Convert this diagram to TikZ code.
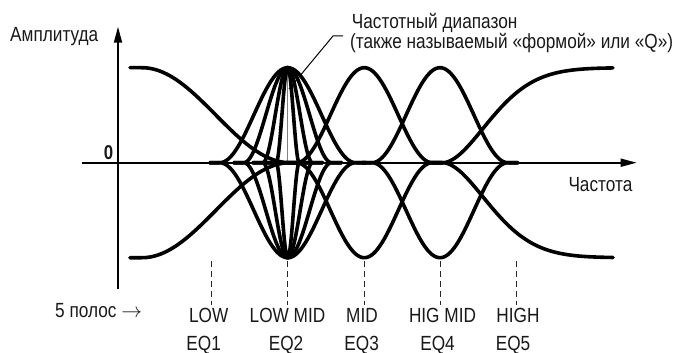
\documentclass[tikz,border=0pt]{standalone}
\usepackage{fontspec}
\setmainfont{Liberation Sans}[FakeStretch=0.84]
\usetikzlibrary{arrows.meta}
\begin{document}
\begin{tikzpicture}[x=1pt,y=-1pt,
  declare function={
    bell(\d,\w)=(abs(\d)<\w)*(1+cos(180*\d/\w))/2;
    lshelf(\x)=(1+cos(180*min(max((\x-142)/148,0),1)))/2;
    rshelf(\x)=1-exp(-pow(max((\x-443)/62.6,0.0001),1.8));
  },
  curve/.style={line width=3.6pt, line join=round, line cap=round},
  axisline/.style={line width=1.8pt, -{Triangle[length=16pt,width=8pt]}},
  guide/.style={line width=1pt, dash pattern=on 6pt off 4pt, black!85},
  lbl/.style={font=\fontsize{20.5}{24}\selectfont, inner sep=0pt, anchor=base, text=black!90},
]
\useasboundingbox (0,0) rectangle (688,353);

% axes
\coordinate (ybot) at (118,289.3);
\coordinate (ytop) at (118,26.7);
\coordinate (xleft) at (81.7,162.7);
\coordinate (xright) at (636.7,162.7);
\draw[axisline] (ybot) -- (ytop);
\draw[axisline] (xleft) -- (xright);

% gray centre line of EQ2
\coordinate (gtop) at (287.7,68);
\coordinate (gbot) at (287.7,162.7);
\draw[gray, line width=1.5pt] (gtop) -- (gbot);

% shelves
\draw[curve] plot[domain=130:298, samples=120] (\x,{162.7-95*lshelf(\x)});
\draw[curve] plot[domain=130:298, samples=120] (\x,{162.7+95*lshelf(\x)});
\draw[curve] plot[domain=430:613, samples=140] (\x,{162.7-95*rshelf(\x)});
\draw[curve] plot[domain=430:613, samples=140] (\x,{162.7+95*rshelf(\x)});

% EQ2 family of bells
\foreach \w in {68,44,25,11.6}{
  \draw[curve] plot[domain={287.7-\w-10}:{287.7+\w+10}, samples=120] (\x,{162.7-95*bell(\x-287.7,\w)});
  \draw[curve] plot[domain={287.7-\w-10}:{287.7+\w+10}, samples=120] (\x,{162.7+95*bell(\x-287.7,\w)});
}
% EQ3, EQ4
\foreach \c in {364.3,440}{
  \draw[curve] plot[domain={\c-78}:{\c+78}, samples=120] (\x,{162.7-95*bell(\x-\c,68)});
  \draw[curve] plot[domain={\c-78}:{\c+78}, samples=120] (\x,{162.7+95*bell(\x-\c,68)});
}

% labels
\node[lbl, anchor=base west] (amp) at (10,41.7) {Амплитуда};
\node[lbl, anchor=base east, font=\fontsize{20}{24}\selectfont\bfseries] (zero) at (113.3,159) {0};
\node[lbl, anchor=base west] (freq) at (568.3,191.7) {Частота};
\node[lbl, anchor=base west] (t1) at (351.7,28.3) {Частотный диапазон};
\node[lbl, anchor=base west] (t2) at (350,48.3) {(также называемый «формой» или «Q»)};

% leader
\coordinate (lp) at (289,89);
\coordinate (lk) at (333,36);
\coordinate (le) at (343,36);
\draw[line width=1pt] (lp) -- (lk) -- (le);

% dashed guides
\foreach \n/\gx in {1/211,2/287.7,3/364.3,4/440,5/516}{
  \coordinate (ga\n) at (\gx,261);
  \coordinate (gb\n) at (\gx,305);
  \draw[guide] (ga\n) -- (gb\n);
}

\node[lbl, anchor=base west] (bands) at (55,317.3) {5 полос $\rightarrow$};
\node[lbl] (n1) at (208.7,322.7) {LOW};
\node[lbl] (n2) at (287.5,322.7) {LOW MID};
\node[lbl] (n3) at (362,322.7) {MID};
\node[lbl] (n4) at (442.5,322.7) {HIG MID};
\node[lbl] (n5) at (518,322.7) {HIGH};
\node[lbl] (e1) at (203.7,350) {EQ1};
\node[lbl] (e2) at (286,350) {EQ2};
\node[lbl] (e3) at (361.7,350) {EQ3};
\node[lbl] (e4) at (437.5,350) {EQ4};
\node[lbl] (e5) at (513,350) {EQ5};
\end{tikzpicture}
\end{document}
